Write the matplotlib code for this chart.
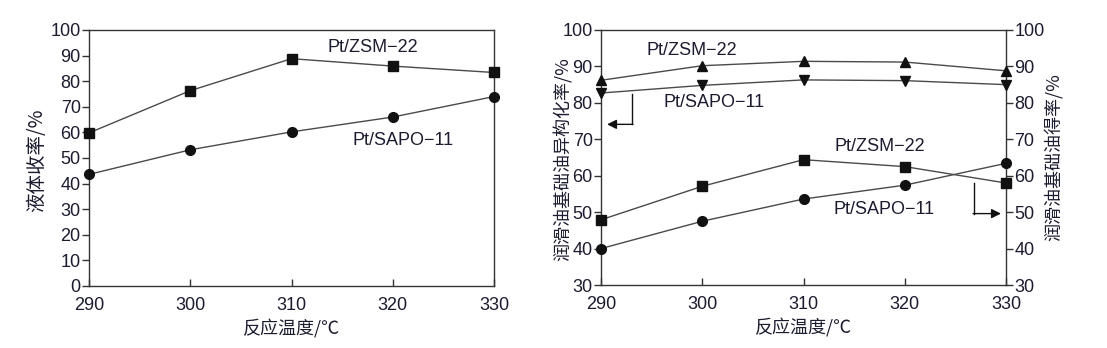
import matplotlib
matplotlib.use('Agg')
import matplotlib.pyplot as plt

plt.rcParams['font.family'] = ['Liberation Sans', 'Noto Sans CJK SC', 'DejaVu Sans']
CJK = ['Noto Sans CJK SC', 'DejaVu Sans']

# 反应温度
temps = [290, 300, 310, 320, 330]

# 液体收率/%
liquid_zsm22 = [59.8, 76.3, 88.8, 85.9, 83.4]
liquid_sapo11 = [43.6, 53.2, 60.2, 66.0, 74.0]

# 润滑油基础油异构化率/%
iso_zsm22 = [86.2, 90.2, 91.4, 91.2, 88.8]
iso_sapo11 = [82.7, 84.8, 86.3, 86.1, 85.0]

# 润滑油基础油得率/%
yield_zsm22 = [47.9, 57.1, 64.4, 62.5, 58.0]
yield_sapo11 = [40.0, 47.5, 53.6, 57.4, 63.4]

TXT = '#1c1c30'
LINE = '#4a4a4a'
MK = '#111111'
FS = 13

fig = plt.figure(figsize=(11.07, 3.48), dpi=100)
W, H = 1107, 348
ax1 = fig.add_axes([89 / W, 1 - 286 / H, (494 - 89) / W, (286 - 30) / H])
ax2 = fig.add_axes([601 / W, 1 - 285 / H, (1006 - 601) / W, (285 - 30) / H])


def style(ax):
    for s in ax.spines.values():
        s.set_color('#333333')
        s.set_linewidth(1.0)
    ax.tick_params(axis='y', direction='out', length=5, width=1, colors='#333333',
                   labelcolor=TXT, labelsize=FS, pad=1)
    ax.tick_params(axis='x', direction='in', length=5, width=1, colors='#333333',
                   labelcolor=TXT, labelsize=FS, pad=8)
    ax.set_xlim(290, 330)
    ax.set_xticks(temps)
    ax.set_xlabel('反应温度/℃', fontsize=13, color=TXT, labelpad=3, family=CJK)


def series(ax, y, marker, ms):
    ax.plot(temps, y, color=LINE, lw=1.0, marker=marker, ms=ms,
            markerfacecolor=MK, markeredgecolor=MK, clip_on=False, zorder=3)


# 左图：液体收率
style(ax1)
ax1.set_ylim(0, 100)
ax1.set_yticks(range(0, 101, 10))
series(ax1, liquid_zsm22, 's', 7.5)
series(ax1, liquid_sapo11, 'o', 7)
ax1.set_ylabel('液体收率/%', fontsize=14, color=TXT, family=CJK)
ax1.yaxis.set_label_coords(-0.104, 0.49)
ax1.text(318, 93, 'Pt/ZSM\u221222', fontsize=FS, color=TXT, ha='center', va='center')
ax1.text(321, 57, 'Pt/SAPO\u221211', fontsize=FS, color=TXT, ha='center', va='center')

# 右图：异构化率（左轴）与得率（右轴）
style(ax2)
ax2.set_ylim(30, 100)
ax2.set_yticks(range(30, 101, 10))
series(ax2, iso_zsm22, '^', 6.5)
series(ax2, iso_sapo11, 'v', 6.5)
ax2.set_ylabel('润滑油基础油异构化率/%', fontsize=13, color=TXT, family=CJK)
ax2.yaxis.set_label_coords(-0.069, 0.494)

ax3 = ax2.twinx()
ax3.set_ylim(30, 100)
ax3.set_yticks(range(30, 101, 10))
for s in ax3.spines.values():
    s.set_visible(False)
ax3.tick_params(axis='y', direction='out', length=5, width=1, colors='#333333',
                labelcolor=TXT, labelsize=FS, pad=1)
series(ax3, yield_zsm22, 's', 7.5)
series(ax3, yield_sapo11, 'o', 7)
ax3.set_ylabel('润滑油基础油得率/%', fontsize=13, color=TXT, family=CJK)
ax3.yaxis.set_label_coords(1.096, 0.5)

ax2.text(299, 94.5, 'Pt/ZSM\u221222', fontsize=FS, color=TXT, ha='center', va='center')
ax2.text(301.2, 80.2, 'Pt/SAPO\u221211', fontsize=FS, color=TXT, ha='center', va='center')
ax2.text(317.5, 68, 'Pt/ZSM\u221222', fontsize=FS, color=TXT, ha='center', va='center')
ax2.text(318, 50.7, 'Pt/SAPO\u221211', fontsize=FS, color=TXT, ha='center', va='center')

# 指示坐标轴的折线箭头
ax2.plot([293.1, 293.1], [82.4, 74.1], color=MK, lw=1.0)
ax2.annotate('', xy=(290.6, 74.1), xytext=(293.15, 74.1),
             arrowprops=dict(arrowstyle='-|>', color=MK, lw=1.0, mutation_scale=14,
                             shrinkA=0, shrinkB=0))
ax3.plot([326.8, 326.8], [57.9, 49.6], color=MK, lw=1.0)
ax3.annotate('', xy=(329.5, 49.6), xytext=(326.75, 49.6),
             arrowprops=dict(arrowstyle='-|>', color=MK, lw=1.0, mutation_scale=14,
                             shrinkA=0, shrinkB=0))

fig.savefig('out.png', dpi=100)
